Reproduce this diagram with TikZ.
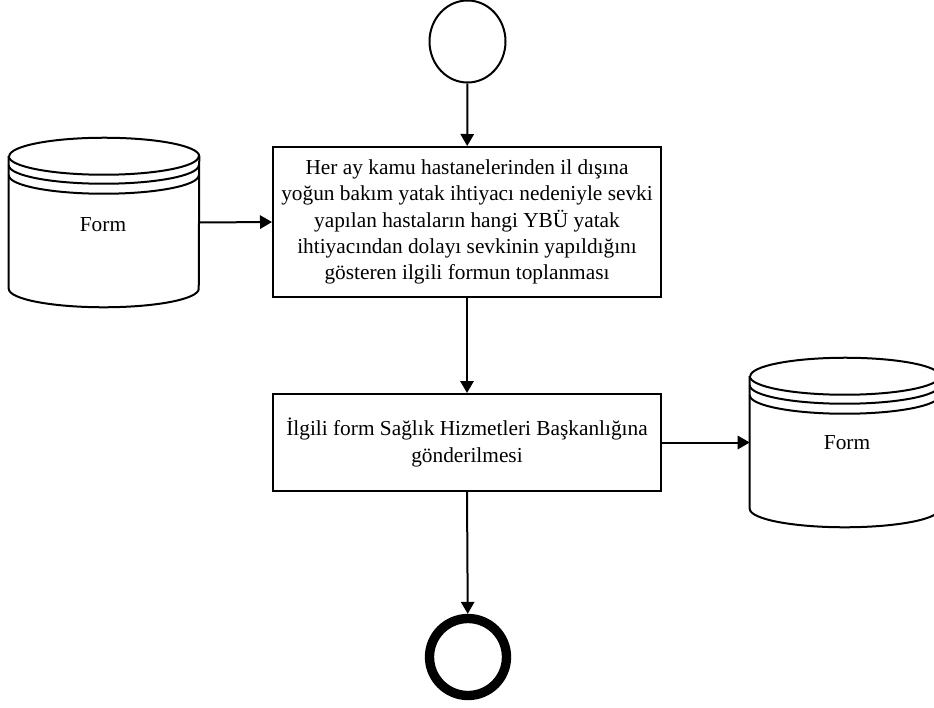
\documentclass[tikz,border=0pt]{standalone}
\usepackage{fontspec}
\setmainfont{Liberation Serif}
\usetikzlibrary{arrows.meta,calc,shapes.geometric}

\tikzset{
  flow/.style={line width=1.5pt, -{Triangle[length=9pt,width=10pt]}},
  procbox/.style={draw, line width=1.5pt, fill=white, minimum width=388*0.75pt,
    align=center, font=\fontsize{16}{19.6}\selectfont, inner sep=0pt},
  dbnode/.style={minimum width=190*0.75pt, minimum height=169*0.75pt,
    font=\fontsize{16}{19.6}\selectfont, inner sep=0pt},
  dbline/.style={line width=1.5pt},
  startev/.style={draw, line width=1.5pt, ellipse, minimum width=76*0.75pt,
    minimum height=82*0.75pt, inner sep=0pt},
  endev/.style={draw, line width=7pt, circle, minimum size=(84-7)*0.75pt, inner sep=0pt},
}

% cylinder (data store) outline drawn around a named node (y axis points down)
\newcommand{\datastore}[1]{%
  \draw[dbline, fill=white]
    ($(#1.north west)+(0,18.5)$) -- ($(#1.south west)+(0,-18.5)$)
    arc[start angle=180, end angle=0, x radius=95, y radius=18.5]
    -- ($(#1.north east)+(0,18.5)$)
    arc[start angle=0, end angle=-180, x radius=95, y radius=18.5];
  \draw[dbline]
    ($(#1.north west)+(0,18.5)$)
    arc[start angle=180, end angle=0, x radius=95, y radius=18.5];
  \draw[dbline]
    ($(#1.north west)+(0,27.5)$)
    arc[start angle=180, end angle=0, x radius=95, y radius=18.5];
  \draw[dbline]
    ($(#1.north west)+(0,37.5)$)
    arc[start angle=180, end angle=0, x radius=95, y radius=18.5];
}

\begin{document}
\begin{tikzpicture}[x=0.75pt, y=-0.75pt]
  \useasboundingbox (0,0) rectangle (934,707);
  \clip (0,0) rectangle (934,707);

  % events
  \node[startev] (start) at (467.5,41.5) {};
  \node[endev] (end) at (468,657) {};

  % tasks
  \node[procbox, minimum height=150*0.75pt] (t1) at (467,222)
    {Her ay kamu hastanelerinden il dışına\\
     yoğun bakım yatak ihtiyacı nedeniyle sevki\\
     yapılan hastaların hangi YBÜ yatak\\
     ihtiyacından dolayı sevkinin yapıldığını\\
     gösteren ilgili formun toplanması};
  \node[procbox, minimum height=97*0.75pt] (t2) at (467,442.5)
    {İlgili form Sağlık Hizmetleri Başkanlığına\\ gönderilmesi};

  % data stores
  \node[dbnode] (db1) at (104,222.5) {};
  \datastore{db1}
  \node[font=\fontsize{16}{19.6}\selectfont] (db1lbl) at (103,225) {Form};
  \node[dbnode] (db2) at (845,442.5) {};
  \datastore{db2}
  \node[font=\fontsize{16}{19.6}\selectfont] (db2lbl) at (847,443) {Form};

  % sequence flow
  \draw[flow] (start) -- (t1);
  \draw[flow] (t1) -- (t2);
  \draw[flow] (t2.south) -- (end);
  \draw[flow] (db1.east) -- (t1.west);
  \draw[flow] (t2.east) -- (db2.west);
\end{tikzpicture}
\end{document}
